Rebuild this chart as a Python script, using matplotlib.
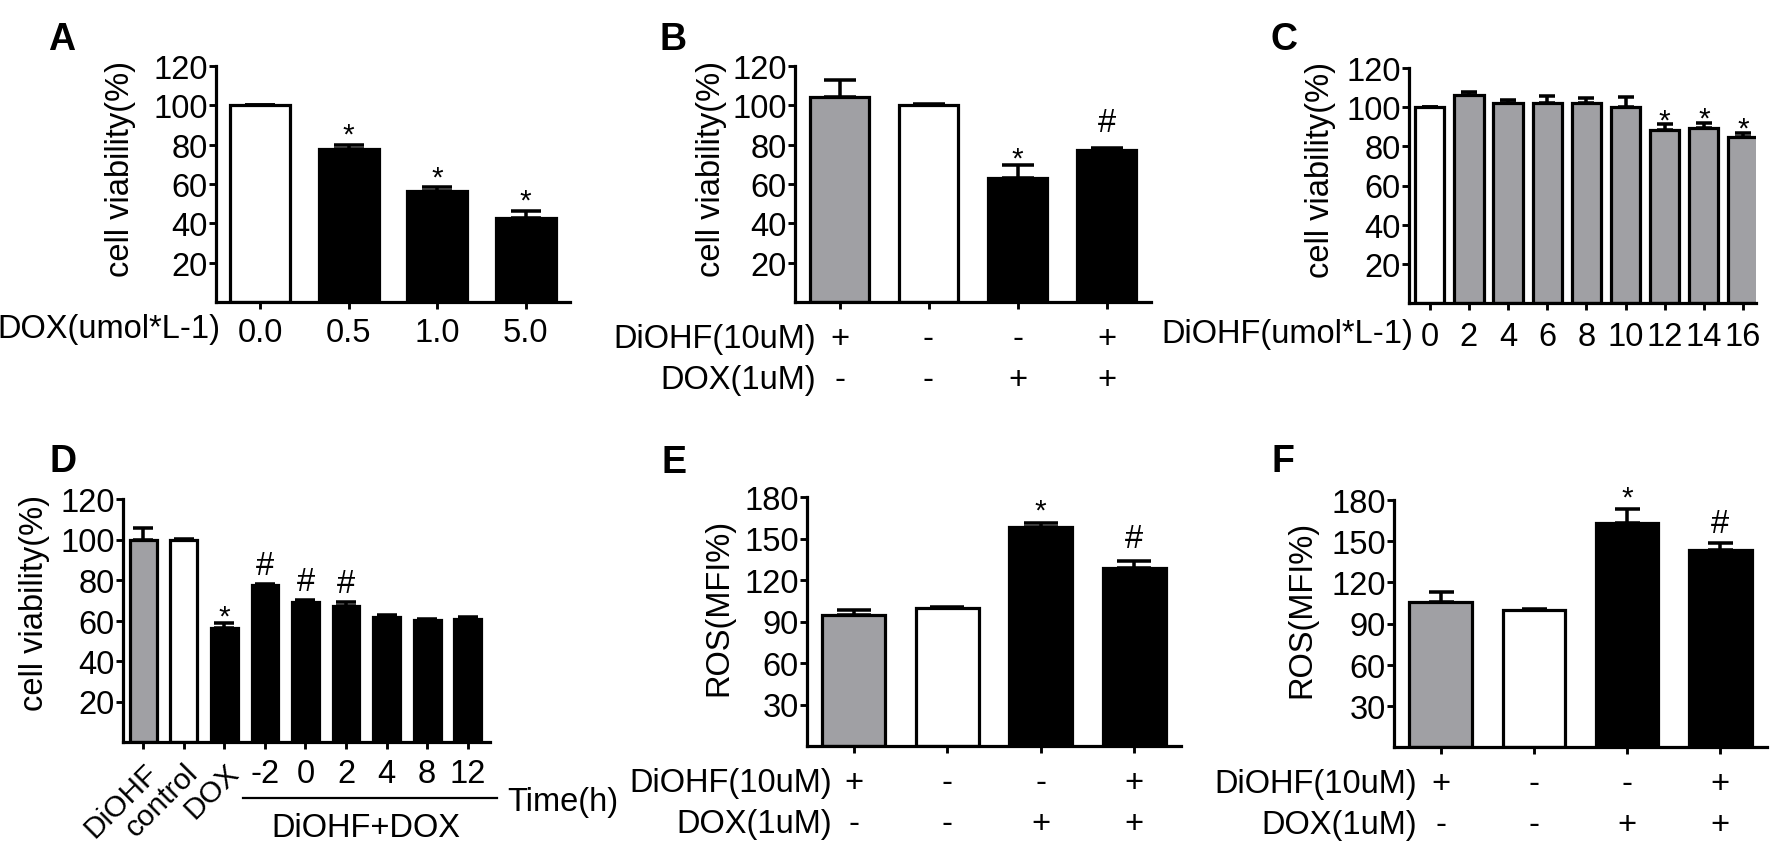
import matplotlib
matplotlib.use("Agg")
import matplotlib.pyplot as plt
from matplotlib.transforms import blended_transform_factory

plt.rcParams['font.family'] = ['Liberation Sans', 'DejaVu Sans']

# ---------------- data ----------------
A_labels = ["0.0", "0.5", "1.0", "5.0"]
A_mean = [100, 77.8, 56.4, 42.7]
A_err = [0, 2.2, 1.9, 3.6]
A_fill = ["white", "black", "black", "black"]
A_marks = ["", "*", "*", "*"]

B_diohf = ["+", "-", "-", "+"]
B_dox = ["-", "-", "+", "+"]
B_mean = [104, 100, 63, 77.3]
B_err = [8.9, 0.5, 6.8, 1.1]
B_fill = ["gray", "white", "black", "black"]
B_marks = ["", "", "*", "#"]

C_labels = ["0", "2", "4", "6", "8", "10", "12", "14", "16"]
C_mean = [100, 106.2, 102.1, 102.1, 102.1, 99.9, 88.4, 89.5, 84.9]
C_err = [0, 1.4, 1.7, 3.5, 2.4, 5.5, 2.9, 2.6, 1.9]
C_fill = ["white"] + ["gray"] * 8
C_marks = ["", "", "", "", "", "", "*", "*", "*"]

D_labels = ["DiOHF", "control", "DOX", "-2", "0", "2", "4", "8", "12"]
D_mean = [99.7, 100, 56.5, 77.5, 69.3, 67.0, 61.9, 60.4, 60.7]
D_err = [5.8, 0.2, 2.3, 0.6, 1.0, 2.0, 0.9, 0.3, 1.0]
D_fill = ["gray", "white"] + ["black"] * 7
D_marks = ["", "", "*", "#", "#", "#", "", "", ""]

E_diohf = ["+", "-", "-", "+"]
E_dox = ["-", "-", "+", "+"]
E_mean = [94.9, 100, 158.6, 128.5]
E_err = [3.4, 0.7, 2.4, 5.0]
E_fill = ["gray", "white", "black", "black"]
E_marks = ["", "", "*", "#"]

F_diohf = ["+", "-", "-", "+"]
F_dox = ["-", "-", "+", "+"]
F_mean = [105.4, 100, 163.5, 143.6]
F_err = [7.2, 0.5, 9.7, 5.1]
F_fill = ["gray", "white", "black", "black"]
F_marks = ["", "", "*", "#"]

# ---------------- style ----------------
COLORS = {"gray": "#a0a0a4", "white": "white", "black": "black"}
FS = 23.5
LW = 2.3
W, H = 1772, 845
fig = plt.figure(figsize=(W / 100, H / 100), dpi=100)
fig.patch.set_facecolor("white")


def add_ax(l, r, t, b):
    return fig.add_axes([l / W, 1 - b / H, (r - l) / W, (b - t) / H])


def draw(ax, mean, err, fill, marks, width, capsize, ymax, yticks, xlim,
         star_off, hash_off, ylabel, ylab_xy):
    x = list(range(len(mean)))
    ax.errorbar(x, mean, yerr=[[0] * len(err), err], fmt="none",
                ecolor="black", elinewidth=LW * 1.1, capsize=capsize,
                capthick=LW * 1.1, zorder=1)
    ax.bar(x, mean, width=width, color=[COLORS[c] for c in fill],
           edgecolor="black", linewidth=LW, zorder=2)
    for xi, m, e, mk in zip(x, mean, err, marks):
        if mk:
            off = star_off if mk == "*" else hash_off
            fs = FS - 2 if mk == "*" else FS
            ax.annotate(mk, xy=(xi, m + e), xytext=(0, off),
                        textcoords="offset points", ha="center",
                        va="baseline", fontsize=fs, zorder=3)
    ax.set_xlim(*xlim)
    ax.set_ylim(0, ymax)
    ax.set_yticks(yticks)
    ax.set_xticks(x)
    for s in ["top", "right"]:
        ax.spines[s].set_visible(False)
    for s in ["left", "bottom"]:
        ax.spines[s].set_linewidth(LW)
    ax.tick_params(axis="both", width=LW * 0.9, length=5, labelsize=FS,
                   color="black")
    ax.tick_params(axis="y", pad=1)
    ax.set_ylabel(ylabel, fontsize=FS)
    ax.yaxis.set_label_coords(*ylab_xy)


def row_label(ax, text, dy_pt, dx_pt=-17):
    ax.annotate(text, xy=(0, 0), xycoords=("data", "axes fraction"),
                xytext=(dx_pt, -dy_pt), textcoords="offset points",
                ha="right", va="baseline", fontsize=FS)


def row_signs(ax, signs, dy_pt):
    for xi, s in enumerate(signs):
        ax.annotate(s, xy=(xi, 0), xycoords=("data", "axes fraction"),
                    xytext=(0, -dy_pt), textcoords="offset points",
                    ha="center", va="baseline", fontsize=FS)


yt_cv = [20, 40, 60, 80, 100, 120]
yt_ros = [30, 60, 90, 120, 150, 180]
ROW1, ROW2 = 32.5, 62

# ---- A ----
axA = add_ax(216, 570, 67, 303)
draw(axA, A_mean, A_err, A_fill, A_marks, 0.68, 11, 120, yt_cv, (-0.5, 3.5),
     1.5, 10, "cell viability(%)", (-0.225, 0.566))
axA.set_xticklabels(A_labels)
axA.tick_params(axis="x", pad=5.5)
axA.annotate("DOX(umol*L-1)", xy=(0, 0), xycoords="axes fraction",
             xytext=(3, -27 / 1.389), textcoords="offset points",
             ha="right", va="center", fontsize=FS)

# ---- B ----
axB = add_ax(795, 1151, 67, 303)
draw(axB, B_mean, B_err, B_fill, B_marks, 0.67, 11.7, 120, yt_cv,
     (-0.5, 3.5), -1, 12.2, "cell viability(%)", (-0.19, 0.566))
axB.set_xticklabels([""] * 4)
row_label(axB, "DiOHF(10uM)", ROW1)
row_label(axB, "DOX(1uM)", ROW2)
row_signs(axB, B_diohf, ROW1)
row_signs(axB, B_dox, ROW2)

# ---- C ----
axC = add_ax(1409, 1756, 69, 304)
draw(axC, C_mean, C_err, C_fill, C_marks, 0.745, 5.9, 120, yt_cv,
     (-0.53, 8.33), -2.8, 10, "cell viability(%)", (-0.21, 0.572))
axC.set_xticklabels(C_labels)
axC.tick_params(axis="x", pad=8)
axC.annotate("DiOHF(umol*L-1)", xy=(0, 0), xycoords="axes fraction",
             xytext=(3, -31 / 1.389), textcoords="offset points",
             ha="right", va="center", fontsize=FS)

# ---- D ----
axD = add_ax(123, 490, 500, 743)
draw(axD, D_mean, D_err, D_fill, D_marks, 0.66, 7.5, 120, yt_cv,
     (-0.5, 8.55), -1, 7.2, "cell viability(%)", (-0.2, 0.576))
axD.set_xticklabels(D_labels)
axD.tick_params(axis="x", pad=6.5)
for lab in axD.get_xticklabels()[:3]:
    lab.set_rotation(45)
    lab.set_ha("right")
    lab.set_va("top")
    lab.set_rotation_mode("anchor")
    lab.set_fontsize(21.5)
trD = blended_transform_factory(axD.transData, axD.transAxes)
axD.plot([2.46, 8.72], [-56 / 243, -56 / 243], color="black", lw=1.6,
         transform=trD, clip_on=False)
axD.text(8.98, -60 / 243, "Time(h)", transform=trD, ha="left",
         va="center", fontsize=FS)
axD.text(5.5, -101 / 243, "DiOHF+DOX", transform=trD, ha="center",
         va="bottom", fontsize=FS)

# ---- E ----
axE = add_ax(807, 1181, 498, 747)
draw(axE, E_mean, E_err, E_fill, E_marks, 0.67, 11.9, 180, yt_ros,
     (-0.5, 3.5), 3.5, 10, "ROS(MFI%)", (-0.195, 0.56))
axE.set_xticklabels([""] * 4)
row_label(axE, "DiOHF(10uM)", ROW1, -16)
row_label(axE, "DOX(1uM)", ROW2, -16)
row_signs(axE, E_diohf, ROW1)
row_signs(axE, E_dox, ROW2)

# ---- F ----
axF = add_ax(1394, 1767, 501, 748)
draw(axF, F_mean, F_err, F_fill, F_marks, 0.67, 9, 180, yt_ros,
     (-0.5, 3.5), 2.7, 7.7, "ROS(MFI%)", (-0.205, 0.563))
axF.set_xticklabels([""] * 4)
row_label(axF, "DiOHF(10uM)", ROW1)
row_label(axF, "DOX(1uM)", ROW2)
row_signs(axF, F_diohf, ROW1)
row_signs(axF, F_dox, ROW2)

# ---- panel letters ----
for letter, px, py in [("A", 48, 50), ("B", 660, 50), ("C", 1270, 50),
                       ("D", 49, 472), ("E", 662, 473), ("F", 1272, 472)]:
    fig.text(px / W, 1 - py / H, letter, fontsize=27, fontweight="bold",
             ha="left", va="baseline")

fig.savefig("out.png", dpi=100, facecolor="white")
